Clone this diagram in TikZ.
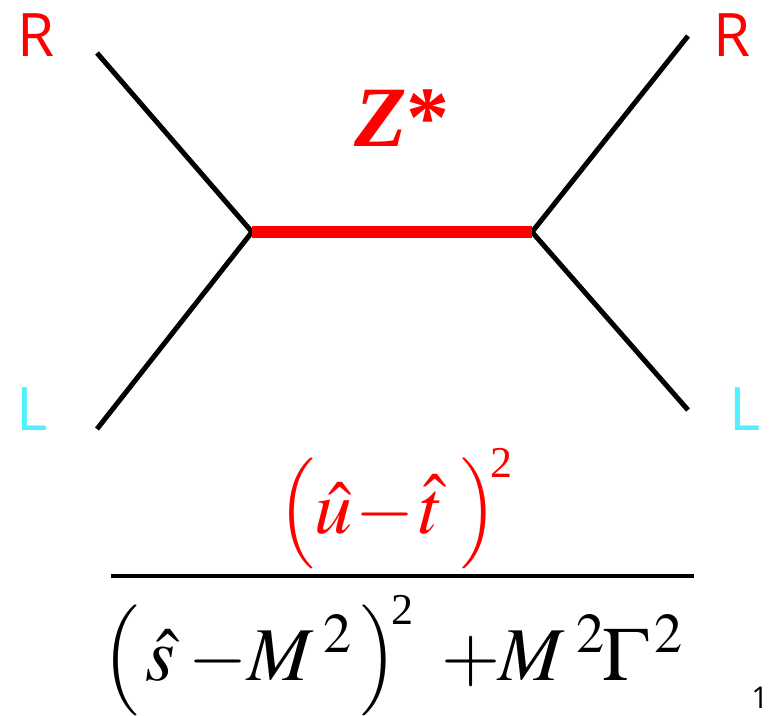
\documentclass[tikz,border=0pt]{standalone}
\usepackage{amsmath}
\usepackage{mathptmx}
\usepackage{fontspec}
\setmainfont{Liberation Serif}
\setsansfont{Open Sans}
\usetikzlibrary{positioning}
\definecolor{zred}{RGB}{255,0,0}
\definecolor{lcyan}{RGB}{80,240,255}
\newcommand{\tonda}[1]{\raisebox{4pt}{\scalebox{.81}{$\Bigl#1$}}}
\newcommand{\quadro}{\mathord{\raisebox{56pt}{\fontsize{44}{44}\selectfont 2}}}

\begin{document}
\begin{tikzpicture}[x=1pt,y=-1pt,
  linea/.style={draw=black, line width=5pt},
  bosone/.style={draw=zred, line width=12pt},
  chirale/.style={font=\sffamily\fontsize{60}{60}\selectfont, inner sep=0pt},
  formula/.style={inner sep=0pt, anchor=base west, font=\fontsize{76}{76}\selectfont}
]
\useasboundingbox (0,0) rectangle (770,715);

% ---- vertici
\coordinate (vsx) at (252,232);
\coordinate (vdx) at (532,232);
\coordinate (rsx) at (97,53);
\coordinate (lsx) at (97,429);
\coordinate (rdx) at (688,36);
\coordinate (ldx) at (688,410);

% ---- linee esterne
\draw[linea] (rsx) -- (vsx);
\draw[linea] (lsx) -- (vsx);
\draw[linea] (rdx) -- (vdx);
\draw[linea] (ldx) -- (vdx);
\draw[bosone] (vsx) -- (vdx);

% ---- etichette
\node[chirale, text=zred] (tr1) at (36,35) {R};
\node[chirale, text=zred] (tr2) at (732,35) {R};
\node[chirale, text=lcyan] (tl1) at (32,409) {L};
\node[chirale, text=lcyan] (tl2) at (745,409) {L};
\node[text=zred, inner sep=0pt, font=\bfseries\fontsize{86}{86}\selectfont] (zstar) at (402,118) {\textit{Z}*};

% ---- frazione
\coordinate (fsx) at (111,576);
\coordinate (fdx) at (694,576);
\draw[draw=black, line width=4pt] (fsx) -- (fdx);
\node[formula, text=zred] (num) at (278,533) {$\tonda{(}\hat{u}\!-\!\kern3pt\hat{t}\,\kern8pt\tonda{)}\kern2pt\!\quadro$};
\node[formula] (den) at (102,680) {$\tonda{(}\,\kern-2pt\hat{s}\kern11pt\!-\!\kern-2pt M^{\kern10pt 2}\,\kern0pt\tonda{)}\kern3pt\!\quadro\kern25pt\!+\!\kern-4pt M^{\kern12pt 2}\kern-3pt\Gamma^{\kern6pt 2}$};
\node[inner sep=0pt, font=\sffamily\fontsize{30}{30}\selectfont] (uno) at (760,698) {1};
\end{tikzpicture}
\end{document}
